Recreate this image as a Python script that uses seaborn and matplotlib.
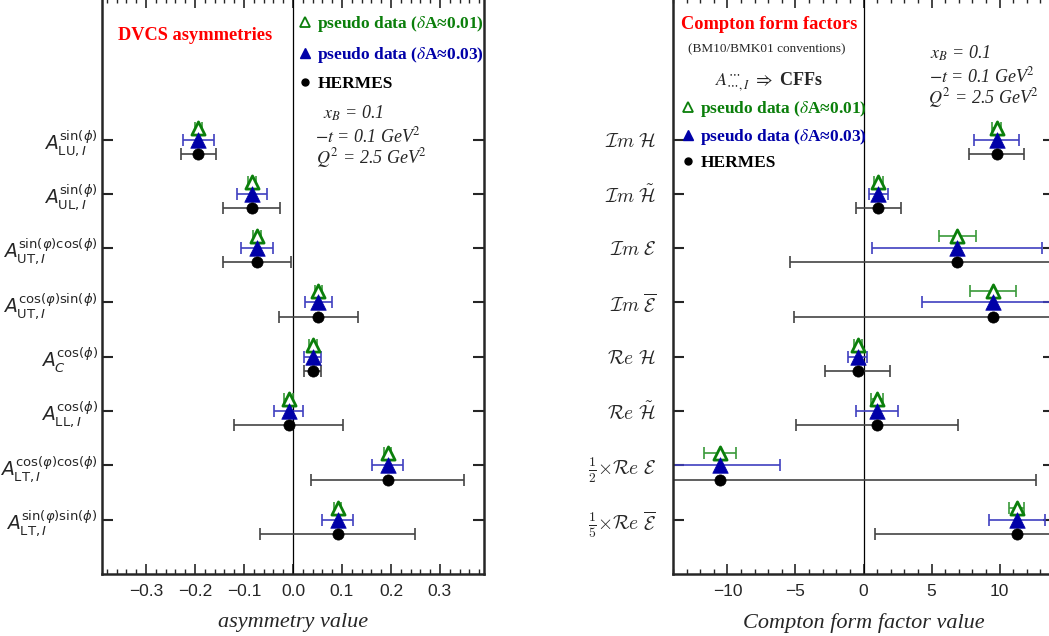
import numpy as np
import pandas as pd
import seaborn as sns
import matplotlib.pyplot as plt
from matplotlib.lines import Line2D
from matplotlib.ticker import MultipleLocator

# ---------------- data ----------------
asym_labels = [
    r'$A^{\sin(\phi)}_{\mathrm{LU},I}$',
    r'$A^{\sin(\phi)}_{\mathrm{UL},I}$',
    r'$A^{\sin(\varphi)\cos(\phi)}_{\mathrm{UT},I}$',
    r'$A^{\cos(\varphi)\sin(\phi)}_{\mathrm{UT},I}$',
    r'$A^{\cos(\phi)}_{C}$',
    r'$A^{\cos(\phi)}_{\mathrm{LL},I}$',
    r'$A^{\cos(\varphi)\cos(\phi)}_{\mathrm{LT},I}$',
    r'$A^{\sin(\varphi)\sin(\phi)}_{\mathrm{LT},I}$',
]
asym_val = [-0.193, -0.084, -0.073, 0.052, 0.040, -0.009, 0.193, 0.091]
asym_err_green = [0.008, 0.008, 0.008, 0.008, 0.008, 0.009, 0.008, 0.008]
asym_err_blue = [0.031, 0.031, 0.033, 0.028, 0.018, 0.030, 0.031, 0.031]
asym_err_black = [0.035, 0.058, 0.069, 0.080, 0.018, 0.111, 0.157, 0.158]

cff_labels = [
    r'$\mathcal{I}m\ \mathcal{H}$',
    r'$\mathcal{I}m\ \tilde{\mathcal{H}}$',
    r'$\mathcal{I}m\ \mathcal{E}$',
    r'$\mathcal{I}m\ \overline{\mathcal{E}}$',
    r'$\mathcal{R}e\ \mathcal{H}$',
    r'$\mathcal{R}e\ \tilde{\mathcal{H}}$',
    r'$\frac{1}{2}{\times}\mathcal{R}e\ \mathcal{E}$',
    r'$\frac{1}{5}{\times}\mathcal{R}e\ \overline{\mathcal{E}}$',
]
cff_val = [9.78, 1.1, 6.89, 9.51, -0.42, 1.0, -10.54, 11.25]
cff_err_green = [0.3, 0.3, 1.37, 1.68, 0.3, 0.45, 1.2, 0.56]
cff_err_blue = [1.63, 0.7, 6.25, 5.24, 0.7, 1.52, 4.43, 2.06]
cff_err_black = [2.0, 1.62, 12.3, 14.6, 2.4, 5.93, 23.2, 10.4]

GREEN = '#0b7f0b'
BLUE = '#0000a8'
BLACK = 'black'
SERIF = ['Liberation Serif', 'DejaVu Serif']

sns.set_style('ticks')
plt.rcParams['font.family'] = ['Liberation Sans', 'DejaVu Sans']
plt.rcParams['xtick.direction'] = 'in'
plt.rcParams['ytick.direction'] = 'in'
plt.rcParams['xtick.top'] = True
plt.rcParams['ytick.right'] = True


def draw_panel(ax, labels, vals, eg, eb, ek, xlim, major, minor):
    rows = np.arange(len(labels))
    series = [
        ('green', eg, -0.22, GREEN, '#3a9a3a'),
        ('blue', eb, 0.0, BLUE, '#4040c0'),
        ('black', ek, 0.26, BLACK, '#444444'),
    ]
    for name, err, off, col, ecol in series:
        y = rows + off
        ax.errorbar(vals, y, xerr=err, fmt='none', ecolor=ecol, elinewidth=1.2,
                    capsize=4, capthick=1.2, zorder=2)
        df = pd.DataFrame({'x': vals, 'y': y})
        if name == 'green':
            sns.scatterplot(data=df, x='x', y='y', marker='^', s=90, color='white',
                            edgecolor=col, linewidth=2, ax=ax, zorder=3)
        elif name == 'blue':
            sns.scatterplot(data=df, x='x', y='y', marker='^', s=125, color=col,
                            edgecolor=col, linewidth=0.5, ax=ax, zorder=3)
        else:
            sns.scatterplot(data=df, x='x', y='y', marker='o', s=65, color=col,
                            edgecolor=col, linewidth=0.5, ax=ax, zorder=3)
    ax.axvline(0, color='black', lw=0.9, zorder=1)
    ax.set_xlim(*xlim)
    ax.set_ylim(8.0, -2.6)
    ax.set_yticks(rows)
    ax.xaxis.set_major_locator(MultipleLocator(major))
    ax.xaxis.set_minor_locator(MultipleLocator(minor))
    ax.tick_params(axis='x', which='major', length=7, width=1.2, labelsize=12.5, pad=7)
    ax.tick_params(axis='x', which='minor', length=3.5, width=1.0, top=True)
    ax.tick_params(axis='y', which='major', length=8, width=1.5)
    for s in ax.spines.values():
        s.set_linewidth(1.8)
    ax.set_ylabel('')


fig = plt.figure(figsize=(10.49, 6.36), dpi=100)
ax1 = fig.add_axes([102 / 1049, 62 / 636, 382 / 1049, 575.6 / 636])
ax2 = fig.add_axes([673 / 1049, 62 / 636, 381 / 1049, 575.6 / 636])

draw_panel(ax1, asym_labels, asym_val, asym_err_green, asym_err_blue, asym_err_black,
           (-0.39, 0.39), 0.1, 0.02)
draw_panel(ax2, cff_labels, cff_val, cff_err_green, cff_err_blue, cff_err_black,
           (-14, 14), 5, 1)

ax1.set_yticklabels(asym_labels, fontsize=13.5, math_fontfamily='dejavusans')
ax1.tick_params(axis='y', pad=3)
ax2.set_yticklabels(cff_labels, fontsize=14, math_fontfamily='cm')
ax2.tick_params(axis='y', pad=12)

ax1.set_xlabel('asymmetry value', family=SERIF, style='italic', fontsize=16, labelpad=10)
ax2.set_xlabel('Compton form factor value', family=SERIF, style='italic', fontsize=16, labelpad=10)

# left panel texts
ax1.text(0.243, 0.935, 'DVCS asymmetries', transform=ax1.transAxes, ha='center', va='center',
         family=SERIF, weight='bold', color='red', fontsize=13.2)
kin = [r'$x_B$ = 0.1', r'$-t$ = 0.1 GeV$^2$', r'$Q^2$ = 2.5 GeV$^2$']


def legend_handles():
    return [
        Line2D([], [], marker='^', ls='none', mfc='white', mec=GREEN, mew=1.3, ms=7),
        Line2D([], [], marker='^', ls='none', mfc=BLUE, mec=BLUE, ms=7),
        Line2D([], [], marker='o', ls='none', mfc=BLACK, mec=BLACK, ms=5),
    ]


leg_labels = [r'pseudo data ($\delta$A≈0.01)', r'pseudo data ($\delta$A≈0.03)', 'HERMES']
leg_prop = {'family': SERIF, 'weight': 'bold', 'size': 12.5, 'math_fontfamily': 'stix'}

ax1.legend(legend_handles(), leg_labels, loc='upper left', bbox_to_anchor=(0.5, 0.985),
           frameon=False, handlelength=0.6, handletextpad=0.4, labelspacing=0.62,
           prop=leg_prop, labelcolor=[GREEN, BLUE, BLACK], borderaxespad=0)
for t, x, y in zip(kin, [0.579, 0.558, 0.560], [0.800, 0.760, 0.722]):
    ax1.text(x, y, t, transform=ax1.transAxes, ha='left', va='center', family=SERIF,
             style='italic', fontsize=13, math_fontfamily='stix')

# right panel texts
ax2.text(0.252, 0.955, 'Compton form factors', transform=ax2.transAxes, ha='center',
         va='center', family=SERIF, weight='bold', color='red', fontsize=13.2)
ax2.text(0.245, 0.912, '(BM10/BMK01 conventions)', transform=ax2.transAxes, ha='center',
         va='center', family=SERIF, fontsize=9.5)
ax2.text(0.252, 0.855, r'$A^{\cdots}_{\cdots,I}\ \Rightarrow$ CFFs', transform=ax2.transAxes,
         ha='center', va='center', family=SERIF, weight='bold', fontsize=13,
         math_fontfamily='stix')
ax2.legend(legend_handles(), leg_labels, loc='upper left', bbox_to_anchor=(0.008, 0.837),
           frameon=False, handlelength=0.6, handletextpad=0.4, labelspacing=0.45,
           prop=leg_prop, labelcolor=[GREEN, BLUE, BLACK], borderaxespad=0)
for t, x, y in zip(kin, [0.675, 0.672, 0.669], [0.905, 0.865, 0.827]):
    ax2.text(x, y, t, transform=ax2.transAxes, ha='left', va='center', family=SERIF,
             style='italic', fontsize=13, math_fontfamily='stix')

fig.savefig('out.png', dpi=100)
